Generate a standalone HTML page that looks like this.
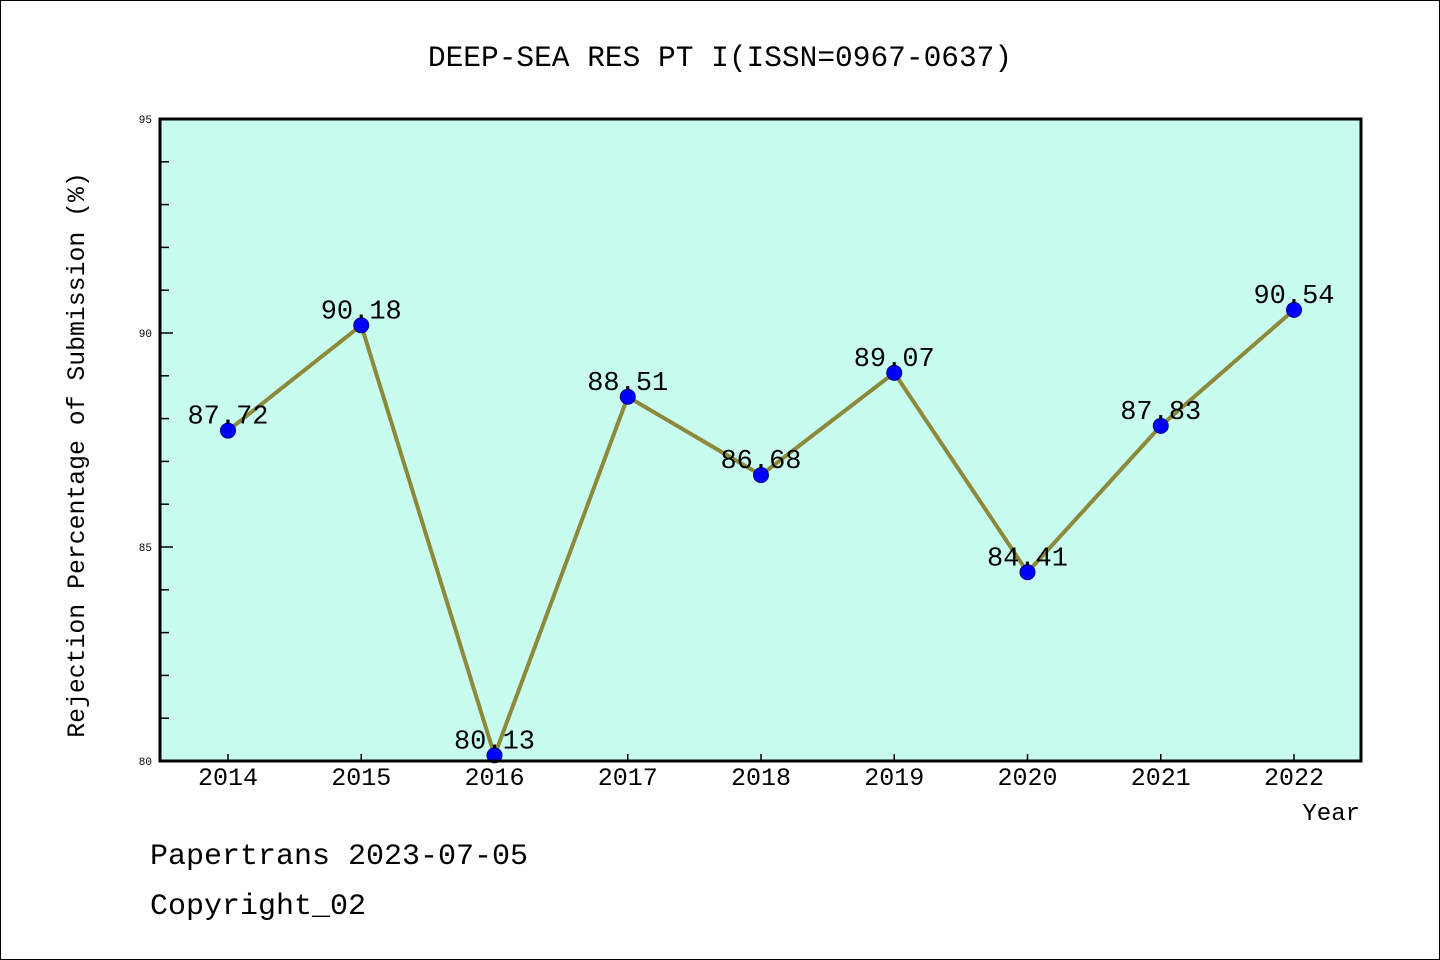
<!DOCTYPE html>
<html><head><meta charset="utf-8"><style>
html,body{margin:0;padding:0;background:#fff}
svg{display:block}
text{font-family:"Liberation Mono","WenQuanYi Zen Hei",monospace}
</style></head><body>
<svg id="chart" width="1440" height="960">
<rect x="0.5" y="0.5" width="1439" height="959" fill="#fff" stroke="#000"/>
<text x="720" y="66" font-size="29.5" text-anchor="middle">DEEP-SEA RES PT I(ISSN=0967-0637)</text>
<rect x="160" y="119" width="1201" height="642" fill="#c8fcee"/>
<g id="ticks"></g>
<g id="series"></g>
<rect x="160" y="119" width="1201" height="642" fill="none" stroke="#000" stroke-width="3"/>
<text x="84" y="455" font-size="24.8" text-anchor="middle" transform="rotate(-90 84 455)">Rejection Percentage of Submission (%)</text>
<text x="1360" y="820" font-size="24" text-anchor="end">Year</text>
<text x="150" y="864" font-size="30">Papertrans 2023-07-05</text>
<text x="150" y="914" font-size="30">Copyright_02</text>
</svg>
<script>
const years=["2014","2015","2016","2017","2018","2019","2020","2021","2022"];
const values=[87.72,90.18,80.13,88.51,86.68,89.07,84.41,87.83,90.54];
const yTicks=[80,85,90,95];
const NS="http://www.w3.org/2000/svg";
const x0=160,x1=1361,yTop=119,yBot=761,yMin=80,yMax=95;
const step=(1294-228)/(years.length-1);
function xs(i){return 228+i*step;}
function ys(v){return yBot-(v-yMin)/(yMax-yMin)*(yBot-yTop);}
function mk(tag,attrs,parent){const e=document.createElementNS(NS,tag);for(const k in attrs)e.setAttribute(k,attrs[k]);parent.appendChild(e);return e;}
const tg=document.getElementById('ticks'),sg=document.getElementById('series');
for(let v=yMin;v<=yMax;v++){
  const major=yTicks.includes(v);
  const t=mk('line',{x1:x0,x2:x0+(major?13:9),y1:ys(v),y2:ys(v),stroke:'#000','stroke-width':1.5},tg);
  
  
}
yTicks.forEach(v=>{
  const t=mk('text',{x:x0-8,y:ys(v)+4,'font-size':11,'text-anchor':'end'},tg);t.textContent=v;
  
  
});
years.forEach((y,i)=>{
  const t=mk('line',{x1:xs(i),x2:xs(i),y1:yBot,y2:yBot-7,stroke:'#000','stroke-width':1.5},tg);
  
  
  const l=mk('text',{x:xs(i),y:785,'font-size':25,'text-anchor':'middle'},tg);l.textContent=y;
  
  
});
const pts=values.map((v,i)=>xs(i)+','+ys(v)).join(' ');
const line=mk('polyline',{points:pts,fill:'none',stroke:'#8c8a3a','stroke-width':4,'stroke-linejoin':'round'},sg);


values.forEach((v,i)=>{
  const c=mk('circle',{cx:xs(i),cy:ys(v),r:7.5,fill:'#0000ff',stroke:'#00008b','stroke-width':1},sg);
  
  
  const t=mk('text',{x:xs(i),y:ys(v)-7,'font-size':27,'text-anchor':'middle'},sg);t.textContent=v.toFixed(2);
  
  
});
</script>
</body></html>
